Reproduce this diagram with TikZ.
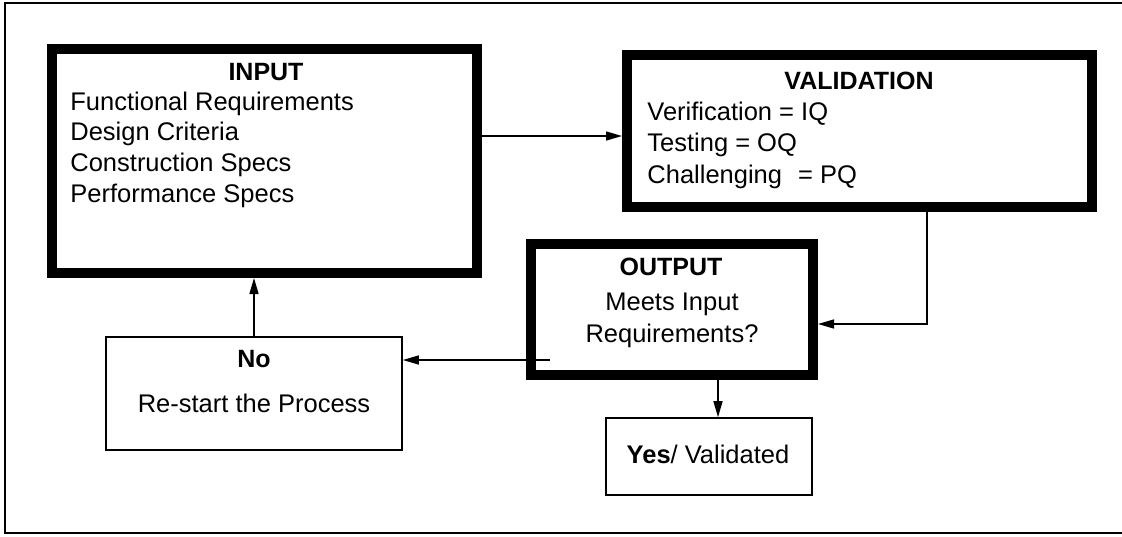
\documentclass[tikz,border=0pt]{standalone}
\usepackage{fontspec}
\setmainfont{Liberation Sans}
\usetikzlibrary{arrows.meta}

\begin{document}
\begin{tikzpicture}[x=0.5pt,y=-0.5pt]
\tikzstyle{heavy}=[rectangle,draw,line width=5pt,inner sep=0pt]
\tikzstyle{light}=[rectangle,draw,line width=0.8pt,inner sep=0pt]
\tikzstyle{txt}=[inner sep=0pt,font=\fontsize{12.75}{15.5}\selectfont]
\tikzstyle{head}=[inner sep=0pt,font=\fontsize{12.5}{15.5}\selectfont\bfseries]
\tikzstyle{arr}=[line width=0.75pt,-{Triangle[length=8pt,width=4.5pt]}]

\useasboundingbox (0,0) rectangle (1122,536);
\draw[line width=1.2pt] (1122,3) -- (5,3) -- (5,533) -- (1122,533);

% boxes
\node[heavy,minimum width=212.5pt,minimum height=112pt] (inbox) at (264.5,161) {};
\node[heavy,minimum width=232.5pt,minimum height=76pt] (valbox) at (859.5,131) {};
\node[heavy,minimum width=141pt,minimum height=65.5pt] (outbox) at (672,309.5) {};
\node[light,minimum width=148pt,minimum height=56.5pt] (nobox) at (254,393.5) {};
\node[light,minimum width=103pt,minimum height=38.5pt] (yesbox) at (709,456.5) {};

% texts
\node[head,anchor=base] (intitle) at (266,80) {INPUT};
\foreach \t [count=\i from 0] in {Functional Requirements,Design Criteria,Construction Specs,Performance Specs}
{
  \node[txt,anchor=base west] (in\i) at (70,{110+30.8*\i}) {\t};
}

\node[head,anchor=base] (valtitle) at (859,89) {VALIDATION};
\foreach \t [count=\i from 0] in {Verification = IQ,Testing = OQ,Challenging\hspace{0.35em} = PQ}
{
  \node[txt,anchor=base west] (val\i) at (647,{120+31.5*\i}) {\t};
}

\node[head,anchor=base] (outtitle) at (671,275) {OUTPUT};
\node[txt,anchor=base] (out0) at (672,310) {Meets Input};
\node[txt,anchor=base] (out1) at (672,342) {Requirements?};

\node[head,anchor=base] (notitle) at (254,367) {No};
\node[txt,anchor=base] (notext) at (254,412) {Re-start the Process};

\node[txt,anchor=base] (yestext) at (708,463) {\textbf{Yes}/ Validated};

% connectors
\draw[arr] ([yshift=-2.5pt]inbox.east |- valbox.west) -- ([yshift=-2.5pt]valbox.west);
\draw[arr] ([xshift=33.75pt]valbox.south) |- ([yshift=-7.25pt]outbox.east);
\draw[arr] ([shift={(12pt,-25.25pt)}]outbox.west) coordinate (nostart) -- (nostart -| nobox.east);
\draw[arr] ([xshift=23pt]outbox.south) -- ([xshift=23pt]outbox.south |- yesbox.north);
\draw[arr] (nobox.north) -- (nobox.north |- inbox.south);

\end{tikzpicture}
\end{document}
